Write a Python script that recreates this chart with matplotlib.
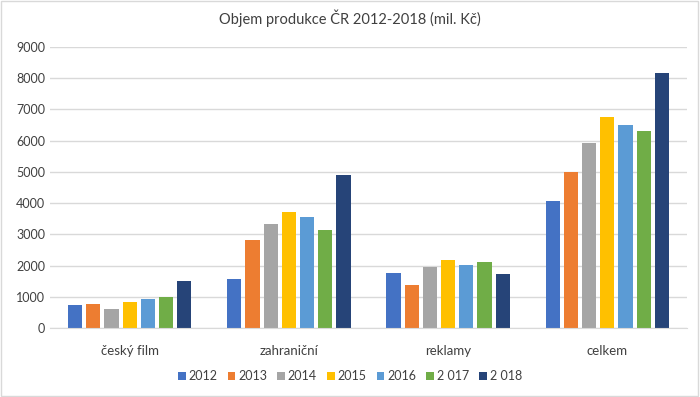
import numpy as np
import matplotlib.pyplot as plt

categories = ["český film", "zahraniční", "reklamy", "celkem"]
years = ["2012", "2013", "2014", "2015", "2016", "2 017", "2 018"]
v2012 = [740, 1560, 1760, 4066]
v2013 = [770, 2830, 1377, 5005]
v2014 = [620, 3340, 1953, 5934]
v2015 = [830, 3700, 2188, 6766]
v2016 = [920, 3555, 2006, 6510]
v2017 = [1000, 3125, 2124, 6318]
v2018 = [1505, 4910, 1740, 8175]
series = [v2012, v2013, v2014, v2015, v2016, v2017, v2018]
colors = ["#4472C4", "#ED7D31", "#A5A5A5", "#FFC000", "#5B9BD5", "#70AD47", "#264478"]

plt.rcParams['font.family'] = ['Lato', 'DejaVu Sans']
txt = "#404040"

fig = plt.figure(figsize=(7, 3.97), dpi=100)
ax = fig.add_axes([50 / 700, (397 - 328) / 397, 637 / 700, 281 / 397])

x = np.arange(len(categories))
slot = 0.8 / len(years)
for i, (vals, c) in enumerate(zip(series, colors)):
    ax.bar(x - 0.4 + slot * (i + 0.5), vals, width=slot * 0.78, color=c, label=years[i])

ax.set_xlim(-0.5, 3.5)
ax.set_ylim(0, 9000)
ax.set_yticks(range(0, 9001, 1000))
ax.grid(axis="y", color="#D9D9D9", lw=1)
ax.set_axisbelow(True)
for s in ["top", "right", "left"]:
    ax.spines[s].set_visible(False)
ax.spines["bottom"].set_color("#D9D9D9")
ax.tick_params(length=0, colors=txt, labelsize=9)
ax.tick_params(axis="x", labelsize=9.5, pad=12)
ax.set_xticks(x)
ax.set_xticklabels(categories)

fig.text(0.5, 1 - 18 / 397, "Objem produkce ČR 2012-2018 (mil. Kč)", ha="center", va="center",
         color=txt, fontsize=10.5)
fig.legend(loc="center", bbox_to_anchor=(0.5, 1 - 376 / 397), ncol=7, frameon=False,
           fontsize=9, handlelength=0.6, handleheight=0.6, handletextpad=0.25,
           columnspacing=0.8, labelcolor=txt)

# chart border
fig.patches.append(plt.Rectangle((0.001, 0.002), 0.996, 0.996, transform=fig.transFigure,
                                 fill=False, edgecolor="#D9D9D9", lw=1))

fig.savefig("out.png", dpi=100)
